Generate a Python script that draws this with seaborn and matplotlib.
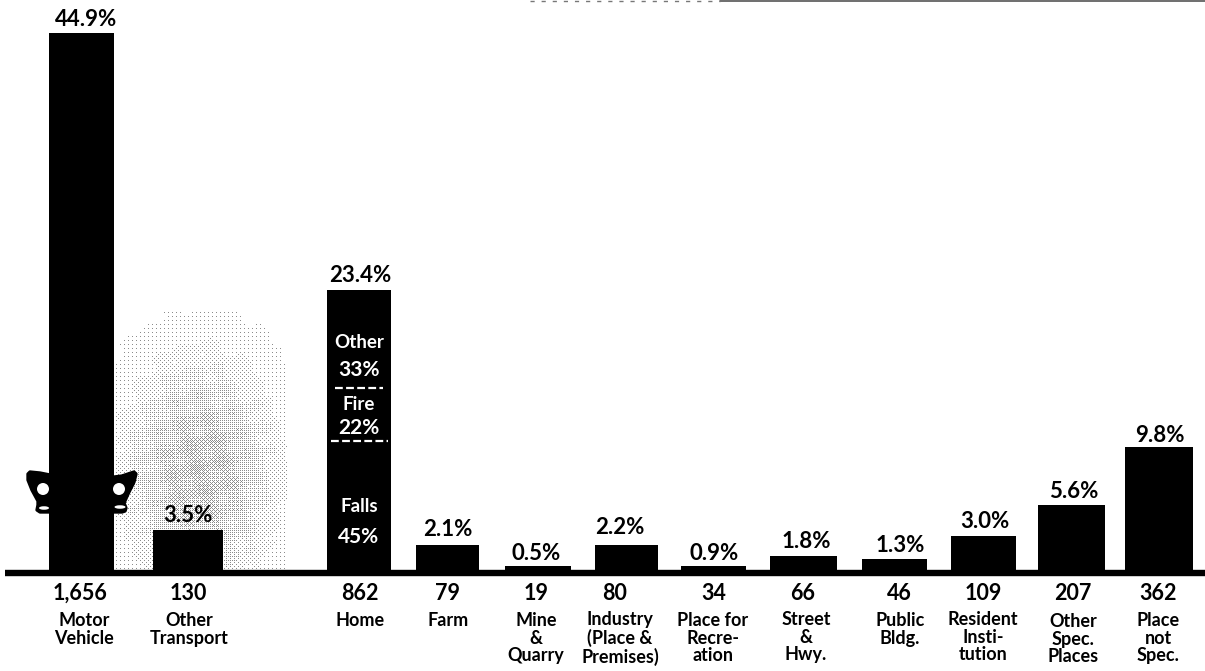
import numpy as np
import pandas as pd
import seaborn as sns
import matplotlib
matplotlib.use("Agg")
import matplotlib.pyplot as plt
from matplotlib.patches import Polygon, Ellipse

# values
categories = ["Motor\nVehicle", "Other\nTransport", "Home", "Farm", "Mine\n&\nQuarry",
              "Industry\n(Place &\nPremises)", "Place for\nRecre-\nation", "Street\n&\nHwy.",
              "Public\nBldg.", "Resident\nInsti-\ntution", "Other\nSpec.\nPlaces", "Place\nnot\nSpec."]
percents = [44.9, 3.5, 23.4, 2.1, 0.5, 2.2, 0.9, 1.8, 1.3, 3.0, 5.6, 9.8]
# the printed bars do not quite follow their labels, so the drawn heights are read separately
drawn_heights = [44.9, 3.5, 23.5, 2.25, 0.5, 2.25, 0.5, 1.35, 1.1, 3.0, 5.6, 10.4]
counts = ["1,656", "130", "862", "79", "19", "80", "34", "66", "46", "109", "207", "362"]
home_names = ["Other", "Fire", "Falls"]
home_shares = ["33%", "22%", "45%"]

# layout, in reference pixels
bar_left = [49, 153, 327, 416, 505, 595, 681, 770, 862, 951, 1038, 1125]
bar_right = [114, 223, 391, 479, 571, 658, 746, 837, 927, 1016, 1105, 1193]
pct_x = [86, 188, 360, 448, 536, 620, 714, 806, 900, 985, 1074, 1160]
pct_y = [20, 515, 276, 529, 553, 527, 553, 541, 545, 521, 492, 436]
count_x = [80, 188, 360, 448, 536, 615, 714, 803, 899, 983, 1073, 1158]
name_x = [84, 189, 360, 448, 536, 620, 713, 806, 900, 983, 1073, 1158]
name_y = [612, 612, 612, 612, 612, 611, 612, 611, 612, 611, 613, 612]
home_name_y = [343, 405, 507]
home_share_y = [370, 428, 537]

W, H = 1205, 671
BASE = 572
PX = 12.0  # pixels per percent


def yp(py):
    return (BASE - py) / PX


sns.set_theme(style="white")
plt.rcParams["font.family"] = ["Lato", "DejaVu Sans"]

fig = plt.figure(figsize=(W / 100, H / 100), dpi=100)
ax = fig.add_axes([0, 0, 1, 1])

# halftone shading behind the transport bars
bayer = np.array([[0, 8, 2, 10], [12, 4, 14, 6], [3, 11, 1, 9], [15, 7, 13, 5]]) / 16 + 1 / 32
gx, gy = np.meshgrid(np.arange(115, 288), np.arange(312, 572))
fade = np.exp(-(((gx - 200) / 72.0) ** 2 + ((gy - 470) / 105.0) ** 2))
fade = fade * (0.8 + 0.2 * np.sin(gx / 7.0 + gy / 11.0) * np.cos(gy / 6.0 - gx / 13.0))
thresh = bayer[gy % 4, gx % 4]
shade = np.where(fade * 0.5 > thresh, 0.55, 1.0)
ax.imshow(shade, extent=[115, 288, yp(572), yp(312)], cmap="gray", vmin=0, vmax=1,
          aspect="auto", interpolation="nearest", zorder=0)

centers = [(a + b) / 2 for a, b in zip(bar_left, bar_right)]
df = pd.DataFrame({"x": centers, "height": drawn_heights})
sns.barplot(data=df, x="x", y="height", native_scale=True, color="black", saturation=1,
            edgecolor="none", ax=ax, zorder=2)
for patch, a, b in zip(ax.patches, bar_left, bar_right):
    patch.set_x(a)
    patch.set_width(b - a)

# baseline and the rule on the top edge
ax.plot([5, W], [yp(573), yp(573)], color="black", lw=4.6, solid_capstyle="butt", zorder=3)
ax.plot([720, W], [yp(0.8), yp(0.8)], color="#555555", lw=1.2, zorder=1)
ax.plot([530, 720], [yp(0.8), yp(0.8)], color="#777777", lw=1.0, ls=(0, (3, 5)), zorder=1)

# labels above, counts and names below
for i, p in enumerate(percents):
    ax.text(pct_x[i], yp(pct_y[i]), f"{p}%", ha="center", va="center", color="black",
            fontsize=16, fontweight="bold", zorder=4)
    ax.text(count_x[i], yp(593), counts[i], ha="center", va="center", color="black",
            fontsize=15.5, fontweight="bold")
    ax.text(name_x[i], yp(name_y[i]), categories[i], ha="center", va="top", color="black",
            fontsize=13, fontweight="bold", linespacing=1.05)

# breakdown inside the Home bar
for name, share, y1, y2 in zip(home_names, home_shares, home_name_y, home_share_y):
    ax.text(359, yp(y1), name, ha="center", va="center", color="white", fontsize=13.5,
            fontweight="bold", zorder=5)
    ax.text(359, yp(y2), share, ha="center", va="center", color="white", fontsize=15,
            fontweight="bold", zorder=5)
ax.plot([335, 383], [yp(388), yp(388)], color="white", lw=1.6, ls=(0, (3.5, 1.5)), zorder=5)
ax.plot([331, 388], [yp(441), yp(441)], color="white", lw=1.6, ls=(0, (3.5, 1.5)), zorder=5)

# car front on the Motor Vehicle bar
left_wing = [(50, 475), (40, 473), (30, 472), (28, 474), (28, 480), (32, 490), (38, 501),
             (38, 505), (37, 510), (40, 512), (50, 512)]
right_wing = [(114, 477), (122, 476), (134, 472), (136, 474), (134, 482), (128, 494),
              (124, 503), (126, 508), (125, 511), (122, 512), (114, 512)]
for wing in (left_wing, right_wing):
    ax.add_patch(Polygon([(x, yp(y)) for x, y in wing], closed=True, fc="black", ec="black",
                         lw=2.4, joinstyle="round", zorder=3))
for cx, cy in [(43, 489), (119, 489)]:
    ax.add_patch(Ellipse((cx, yp(cy)), 12, 12 / PX, fc="white", ec="none", zorder=4))
for cx, cy, w in [(44, 508, 10), (120, 507, 11)]:
    ax.add_patch(Ellipse((cx, yp(cy)), w, 3.5 / PX, fc="white", ec="none", zorder=4))

ax.set_xlim(0, W)
ax.set_ylim(yp(H), yp(0))
ax.axis("off")

fig.savefig("out.png", dpi=100, facecolor="white")
